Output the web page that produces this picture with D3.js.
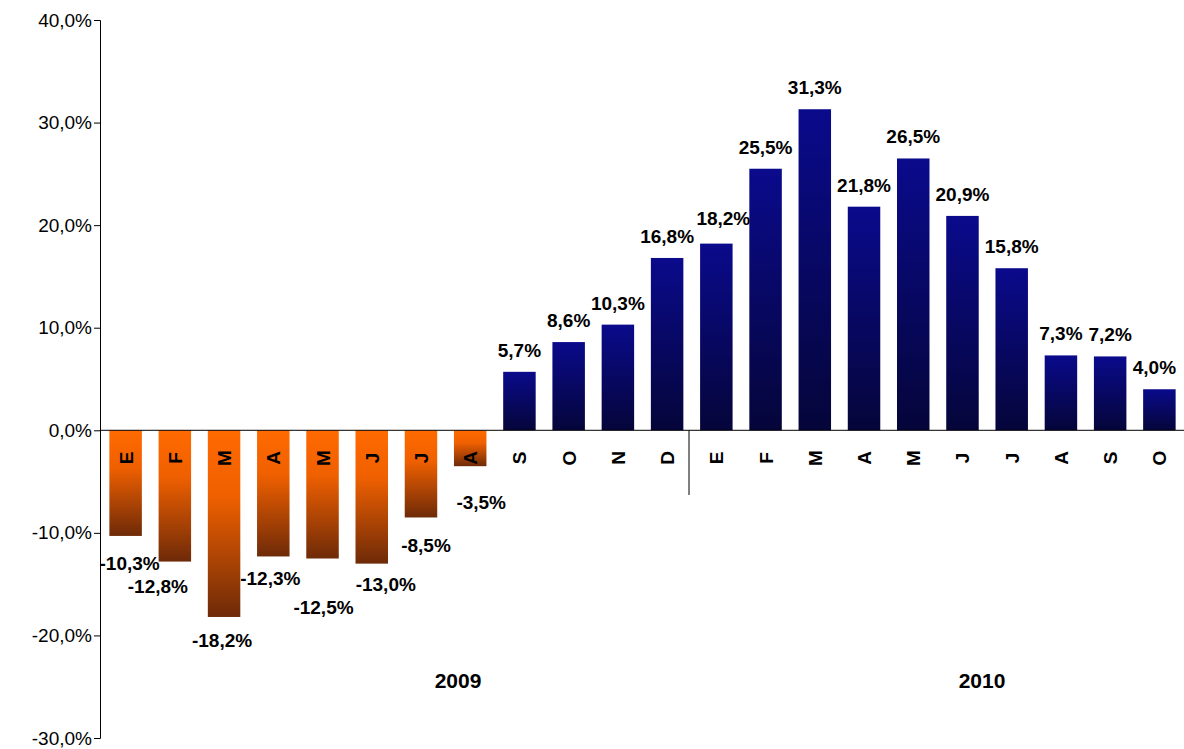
<!DOCTYPE html>
<html><head><meta charset="utf-8">
<script src="https://cdn.jsdelivr.net/npm/d3@7"></script>
<style>body{margin:0;background:#fff}text{font-family:"Liberation Sans",Arial,sans-serif}</style>
</head><body>
<svg id="c" width="1184" height="749"></svg>
<script>
const months = ["E","F","M","A","M","J","J","A","S","O","N","D","E","F","M","A","M","J","J","A","S","O"];
const values = [-10.3,-12.8,-18.2,-12.3,-12.5,-13.0,-8.5,-3.5,5.7,8.6,10.3,16.8,18.2,25.5,31.3,21.8,26.5,20.9,15.8,7.3,7.2,4.0];
const yearLabels = ["2009","2010"];
const yTicks = [40,30,20,10,0,-10,-20,-30];
// label nudges (layout only), pixels
const labelDx = [4,-17,-2,-3,1,14,5,11, 0,0,0,0,7,0,0,0,0,0,0,0,0,-5];
const labelDy = [27,24,23,22,48,20,28,36, -22,-22,-22,-22,-26,-22,-22,-22,-22,-22,-22,-22,-22,-22];

const svg = d3.select("#c");
const y = d3.scaleLinear().domain([-30,40]).range([738,20]);
const x = d3.scaleBand().domain(d3.range(months.length)).range([101,1184]).paddingInner(0.34).paddingOuter(0.17);
const defs = svg.append("defs");
const g1 = defs.append("linearGradient").attr("id","neg").attr("x1",0).attr("y1",0).attr("x2",0).attr("y2",1);
g1.append("stop").attr("offset","0%").attr("stop-color","#ff6a00");
g1.append("stop").attr("offset","35%").attr("stop-color","#f06000");
g1.append("stop").attr("offset","100%").attr("stop-color","#6e2a08");
const g2 = defs.append("linearGradient").attr("id","pos").attr("x1",0).attr("y1",0).attr("x2",0).attr("y2",1);
g2.append("stop").attr("offset","0%").attr("stop-color","#0a0a8c");
g2.append("stop").attr("offset","100%").attr("stop-color","#05053a");

const fmt = v => v.toFixed(1).replace(".",",") + "%";

svg.selectAll("rect.b").data(values).join("rect")
  .attr("x",(d,i)=>x(i)).attr("width",x.bandwidth())
  .attr("y",d=>y(Math.max(0,d))).attr("height",d=>Math.abs(y(d)-y(0)))
  .attr("fill",d=>d<0?"url(#neg)":"url(#pos)");

const axis = d3.axisLeft(y).tickValues(yTicks).tickSize(6).tickFormat(d=>d.toFixed(1).replace(".",",")+"%");
const ag = svg.append("g").attr("transform","translate(100,0)").call(axis);
ag.select(".domain").attr("stroke","#000");
ag.selectAll("text").attr("font-size",19).attr("fill","#000").attr("x",-8);

svg.append("line").attr("x1",100).attr("x2",1184).attr("y1",y(0)).attr("y2",y(0)).attr("stroke","#000");
svg.append("line").attr("x1",689).attr("x2",689).attr("y1",y(0)).attr("y2",495).attr("stroke","#000");

svg.selectAll("text.m").data(months).join("text")
  .attr("transform",(d,i)=>`translate(${x(i)+x.bandwidth()/2+7},458) rotate(-90)`)
  .attr("text-anchor","middle").attr("font-size",19).attr("font-weight","bold").text(d=>d);

svg.selectAll("text.v").data(values).join("text")
  .attr("x",(d,i)=>x(i)+x.bandwidth()/2+labelDx[i])
  .attr("y",(d,i)=>y(d)+labelDy[i]+7)
  .attr("text-anchor","middle").attr("font-size",19).attr("font-weight","bold").text(fmt);

svg.append("text").attr("x",458).attr("y",688).attr("text-anchor","middle").attr("font-size",21).attr("font-weight","bold").text(yearLabels[0]);
svg.append("text").attr("x",982).attr("y",688).attr("text-anchor","middle").attr("font-size",21).attr("font-weight","bold").text(yearLabels[1]);
</script>
</body></html>
